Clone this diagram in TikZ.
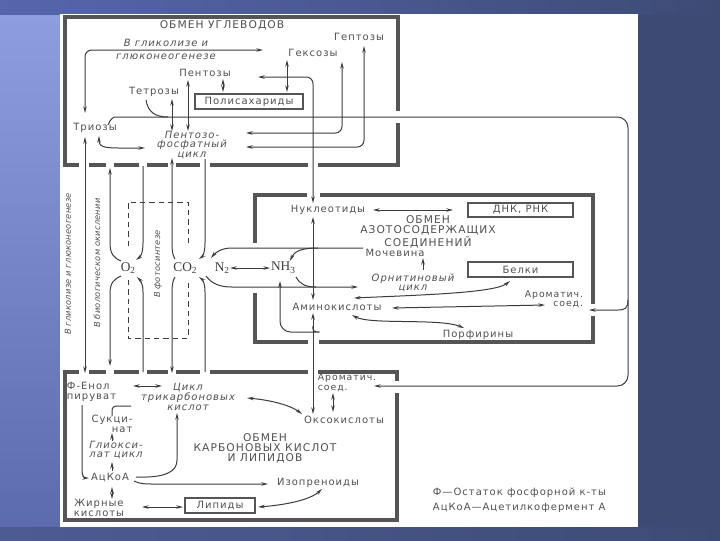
\documentclass[tikz,border=0pt]{standalone}
\usepackage{fontspec}
\setmainfont{DejaVu Sans}[LetterSpace=10]
\newfontfamily\chemf{Liberation Serif}
\newfontfamily\rotf{DejaVu Sans}[LetterSpace=3]
\usetikzlibrary{arrows.meta}
\definecolor{ink}{HTML}{3C3C3C}
\definecolor{txt}{HTML}{505050}
\definecolor{frame}{HTML}{555555}
\definecolor{bgA}{HTML}{8E9DE0}
\definecolor{bgB}{HTML}{5B6BAE}
\definecolor{bgR}{HTML}{3D4B74}
\definecolor{bgT}{HTML}{5566AE}
\newcommand\sub[1]{\raisebox{-2pt}{\fontsize{7}{7}\selectfont #1}}
\begin{document}
\begin{tikzpicture}[x=0.75pt,y=-0.75pt,
 con/.style={draw=ink,line width=0.75pt},
 frm/.style={draw=frame,line width=2.4pt},
 dsh/.style={draw=ink,line width=0.75pt,dash pattern=on 4pt off 3pt},
 lbl/.style={text=txt,inner sep=0.5pt,font=\fontsize{7.5}{8}\selectfont,align=center},
 itl/.style={lbl,font=\fontsize{7.5}{7.2}\selectfont\itshape},
 rtl/.style={lbl,rotate=90,font=\rotf\fontsize{6.2}{6.2}\selectfont\itshape},
 hd/.style={lbl,font=\fontsize{8}{7.6}\selectfont},
 boxn/.style={lbl,draw=frame,line width=1.3pt,minimum height=11pt},
 chem/.style={text=ink,inner sep=0.5pt,font=\chemf\fontsize{10}{10}\selectfont},
 >={Stealth[length=5pt,width=2.6pt]}]
\useasboundingbox (0,0) rectangle (720,540);
% background
\fill[bgR] (0,0) rectangle (720,540);
\shade[top color=bgA,bottom color=bgB] (0,14) rectangle (60,527);
\shade[left color=bgT,right color=bgR] (0,0) rectangle (720,14);
\shade[left color=bgB!85!black,right color=bgR] (0,527) rectangle (720,540);
\fill[white] (60,14) rectangle (638,527);

% ---------- frames ----------
% top box
\draw[frm] (398,111) -- (398,17) -- (65,17) -- (65,165) -- (79,165);
\draw[frm] (89,165) -- (106,165);
\draw[frm] (114,165) -- (139,165);
\draw[frm] (147,165) -- (168,165);
\draw[frm] (176,165) -- (200,165);
\draw[frm] (210,165) -- (308,165);
\draw[frm] (318,165) -- (398,165) -- (398,123);
% middle box
\draw[frm] (307,195) -- (255,195) -- (255,243);
\draw[frm] (320,195) -- (593,195) -- (593,304);
\draw[frm] (593,316) -- (593,342) -- (319,342);
\draw[frm] (308,342) -- (255,342) -- (255,293);
% bottom box
\draw[frm] (79,372) -- (65,372) -- (65,520) -- (397,520) -- (397,393);
\draw[frm] (89,372) -- (106,372);
\draw[frm] (114,372) -- (139,372);
\draw[frm] (147,372) -- (168,372);
\draw[frm] (176,372) -- (200,372);
\draw[frm] (210,372) -- (308,372);
\draw[frm] (318,372) -- (397,372) -- (397,381);

% ---------- top box nodes ----------
\node[hd] (hU) at (222,25) {ОБМЕН УГЛЕВОДОВ};
\node[itl] (gl1) at (166,43) {В гликолизе и};
\node[itl] (gl2) at (166,57) {глюконеогенезе};
\node[lbl] (hept) at (359,37) {Гептозы};
\node[lbl] (hex) at (313,53) {Гексозы};
\node[lbl] (pent) at (205,73) {Пентозы};
\node[lbl] (tetr) at (154,92) {Тетрозы};
\node[boxn,minimum width=81pt] (poly) at (249,101.5) {Полисахариды};
\node[lbl] (trio) at (95,128) {Триозы};
\node[itl] (ppc) at (192,145) {Пентозо-\\фосфатный\\цикл};

% ---------- middle nodes ----------
\node[chem] (o2) at (128,268) {O\sub{2}};
\node[chem] (co2) at (185,268) {CO\sub{2}};
\node[chem] (n2) at (222,268) {N\sub{2}};
\node[chem] (nh3) at (283,268) {NH\sub{3}};
\node[rtl] (rot1) at (68,264) {В гликолизе и глюконеогенезе};
\node[rtl] (rot2) at (97,263) {В биологическом окислении};
\node[rtl] (rot3) at (158,264) {В фотосинтезе};

\node[lbl] (nuc) at (328,210) {Нуклеотиды};
\node[boxn,minimum width=79pt] (dna) at (520.5,210) {ДНК, РНК};
\node[hd] (hN) at (428,232) {ОБМЕН\\АЗОТОСОДЕРЖАЩИХ\\СОЕДИНЕНИЙ};
\node[lbl] (moch) at (395,253) {Мочевина};
\node[itl] (orn) at (413,283) {Орнитиновый\\цикл};
\node[boxn,minimum width=79pt] (bel) at (520.5,269.5) {Белки};
\node[lbl] (amino) at (337,307) {Аминокислоты};
\node[lbl,align=right,anchor=east,font=\fontsize{7}{6.8}\selectfont] (arom1) at (584,299) {Ароматич.\\соед.};
\node[lbl] (porf) at (478,335) {Порфирины};

% ---------- bottom nodes ----------
\node[lbl,align=left,anchor=west,font=\fontsize{7.5}{8}\selectfont] (fen) at (66,392) {Ф-Енол\\пируват};
\node[itl] (tca) at (188,397) {Цикл\\трикарбоновых\\кислот};
\node[lbl,align=left,anchor=west,font=\fontsize{7}{7.5}\selectfont] (arom2) at (317,383) {Ароматич.\\соед.};
\node[lbl] (okso) at (344,420) {Оксокислоты};
\node[lbl,align=right] (succ) at (112,424) {Сукци-\\нат};
\node[itl] (glio) at (116,450) {Глиокси-\\лат цикл};
\node[lbl] (acoa) at (110,478) {АцКоА};
\node[lbl] (fat) at (99,508) {Жирные\\кислоты};
\node[boxn,minimum width=52pt] (lip) at (220,505.5) {Липиды};
\node[lbl] (izo) at (318,483) {Изопреноиды};
\node[hd] (hB) at (265,448) {ОБМЕН\\КАРБОНОВЫХ КИСЛОТ\\И ЛИПИДОВ};

\node[lbl,anchor=west] (leg1) at (432,493) {Ф—Остаток фосфорной к-ты};
\node[lbl,anchor=west] (leg2) at (432,508) {АцКоА—Ацетилкофермент А};

% ---------- dashed photosynthesis frame ----------
\draw[dsh] (128,246) -- (128,202) -- (188,202) -- (188,246);
\draw[dsh] (128,280) -- (128,338) -- (188,338) -- (188,280);

% ---------- top box connectors ----------
\draw[con,<->,rounded corners=5] (85,113) -- (85,50) -- (263,50);
\draw[con,<->] (85,137) -- (85,373);
\draw[con,<->] (99,136) .. controls (99,149) and (106,148) .. (145,148);
\draw[con,->,rounded corners=8] (108,125) .. controls (110,119) and (114,117) .. (125,117) -- (628,117) -- (628,386) -- (374,386);
\draw[con] (146,100) .. controls (148,112) and (155,117) .. (168,117);
\draw[con,<->] (172,99) -- (172,131);
\draw[con,<->] (188,80) -- (188,131);
\draw[con,<->] (223,79) -- (223,92);
\draw[con,<->] (287,60) -- (287,92);
\draw[con,<->,rounded corners=5] (258,77) -- (313,77) -- (313,203);
\draw[con,<->,rounded corners=5] (246,133) -- (342,133) -- (342,62);
\draw[con,<->,rounded corners=5] (246,147) -- (364,147) -- (364,46);

% ---------- O2 / CO2 hourglass ----------
\draw[con,<-] (110,168) -- (110,243) .. controls (110,254) and (114,258) .. (121,261);
\draw[con,->] (121,276) .. controls (114,279) and (110,283) .. (110,293) -- (110,366);
\draw[con,->] (143,166) -- (143,243) .. controls (143,254) and (140,257) .. (136,260);
\draw[con,->] (143,372) -- (143,292) .. controls (143,283) and (140,280) .. (137,277);
\draw[con,<-] (172,158) -- (172,243) .. controls (172,252) and (173,256) .. (175,259);
\draw[con,->] (175,277) .. controls (173,280) and (172,284) .. (172,293) -- (172,373);
\draw[con,->] (205,159) -- (205,243) .. controls (205,252) and (203,256) .. (199,259);
\draw[con,->] (205,372) -- (205,292) .. controls (205,284) and (203,280) .. (199,277);

% ---------- nitrogen connectors ----------
\draw[con,<->] (n2) -- (nh3);
\draw[con,->] (363,248) -- (232,248) .. controls (222,248) and (216,252) .. (211,258);
\draw[con,->] (318,248) .. controls (300,248) and (294,252) .. (290,261);
\draw[con,->] (206,276) .. controls (212,284) and (220,287) .. (232,287) -- (358,287);
\draw[con] (296,277) .. controls (300,284) and (305,287) .. (316,287);
\draw[con,<-,rounded corners=8] (280,281) -- (280,332) -- (309,332) .. controls (312,332) and (313,330) .. (313,326);
\draw[con,<->] (313,217) -- (313,300);
\draw[con,<->] (313,313) -- (313,414);
\draw[con,<->] (373,210) -- (453,210);
\draw[con,->] (423,270) -- (423,258);
\draw[con,<->] (354,298) .. controls (420,295) and (495,293) .. (510,281);
\draw[con,<->] (392,308) -- (545,305);
\draw[con,<->] (352,315) .. controls (370,325) and (440,318) .. (464,328);
\draw[con,->] (628,300) .. controls (628,308) and (625,310) .. (618,310) -- (589,310);

% ---------- bottom box connectors ----------
\draw[con,<->] (133,386) -- (162,386);
\draw[con,<->] (247,398) .. controls (270,400) and (290,405) .. (302,414);
\draw[con,<->] (333,393) -- (333,412);
\draw[con,->] (82,405) -- (82,470) .. controls (82,475) and (84,478) .. (89,478);
\draw[con] (112,416) -- (112,411) .. controls (112,407) and (114,406) .. (118,406) -- (131,406);
\draw[con,->] (112,441) -- (112,433);
\draw[con,->] (112,471) -- (112,462);
\draw[con,<->] (112,487) -- (112,499);
\draw[con,<->] (142,507) -- (183,507);
\draw[con,<->] (258,507) .. controls (285,505) and (310,500) .. (322,489);
\draw[con,->] (134,481) .. controls (140,484) and (145,484) .. (155,484) -- (268,484);
\draw[con,->] (136,477) .. controls (165,478) and (177,472) .. (177,460) -- (177,413);
\end{tikzpicture}
\end{document}
